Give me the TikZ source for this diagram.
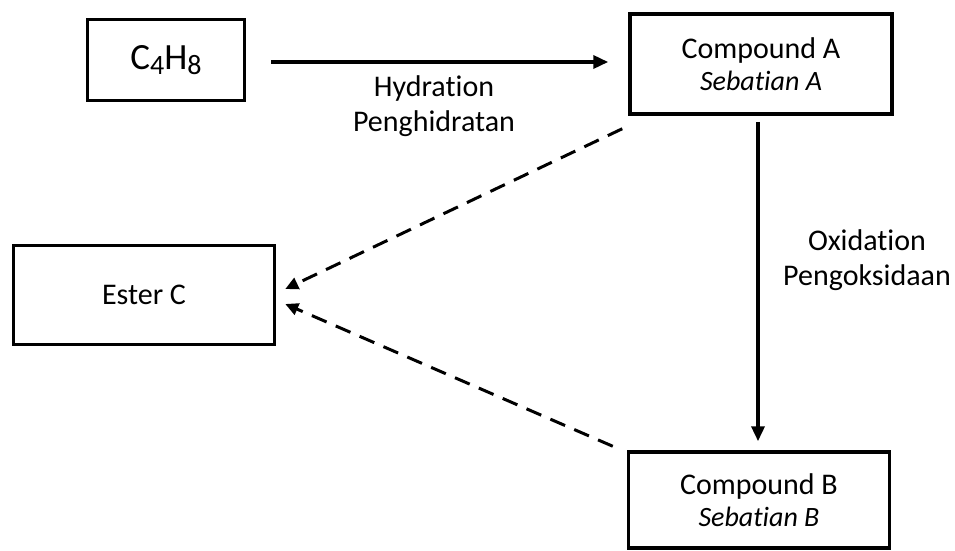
\documentclass[tikz,border=0pt]{standalone}
\usepackage{fontspec}
\setmainfont[Ligatures=NoCommon]{Carlito}
\usetikzlibrary{arrows.meta,positioning,calc}
\newcommand{\chsub}[1]{\raisebox{-0.3ex}{\fontsize{28}{28}\selectfont #1}}

\begin{document}
\begin{tikzpicture}[x=1pt,y=-1pt,
  box/.style={draw,line width=3.5pt,fill=white,align=center,font=\fontsize{30}{32}\selectfont},
  arr/.style={-{Triangle[length=15pt,width=13pt]},line width=3.5pt},
  darr/.style={-{Triangle[length=13pt,width=12pt]},line width=3pt,dash pattern=on 16pt off 10pt},
  lbl/.style={align=center,font=\fontsize{30}{35}\selectfont}
]
\useasboundingbox (0,0) rectangle (955,551);

\node[box,minimum width=157pt,minimum height=81pt] (c4h8)  at (166,60)  {\fontsize{37}{40}\selectfont C\chsub{4}H\chsub{8}};
\node[box,minimum width=262pt,minimum height=100pt] (compA) at (761,64)  {Compound A\\{\itshape\fontsize{28}{30}\selectfont Sebatian A}};
\node[box,minimum width=261pt,minimum height=99pt] (ester) at (144,295) {Ester C};
\node[box,minimum width=261pt,minimum height=96pt] (compB) at (759,500) {Compound B\\{\itshape\fontsize{28}{30}\selectfont Sebatian B}};

% hydration
\draw[arr,shorten <=25pt,shorten >=20pt] ($(c4h8.east)+(0,2)$) -- ($(compA.west)+(0,-2)$);
\node[lbl] (hyd) at (434,106) {Hydration\\Penghidratan};

% oxidation
\draw[arr,shorten <=6pt,shorten >=9pt] ($(compA.south)+(-3,0)$) -- ($(compB.north)+(-1,0)$);
\node[lbl] (oxi) at (867,260) {Oxidation\\Pengoksidaan};

% esterification
\draw[darr] ($(compA.south west)+(-6,13)$) -- ($(ester.east)+(9,-6)$);
\draw[darr] ($(compB.north west)+(-14,-4)$) -- ($(ester.east)+(9,9)$);
\end{tikzpicture}
\end{document}
